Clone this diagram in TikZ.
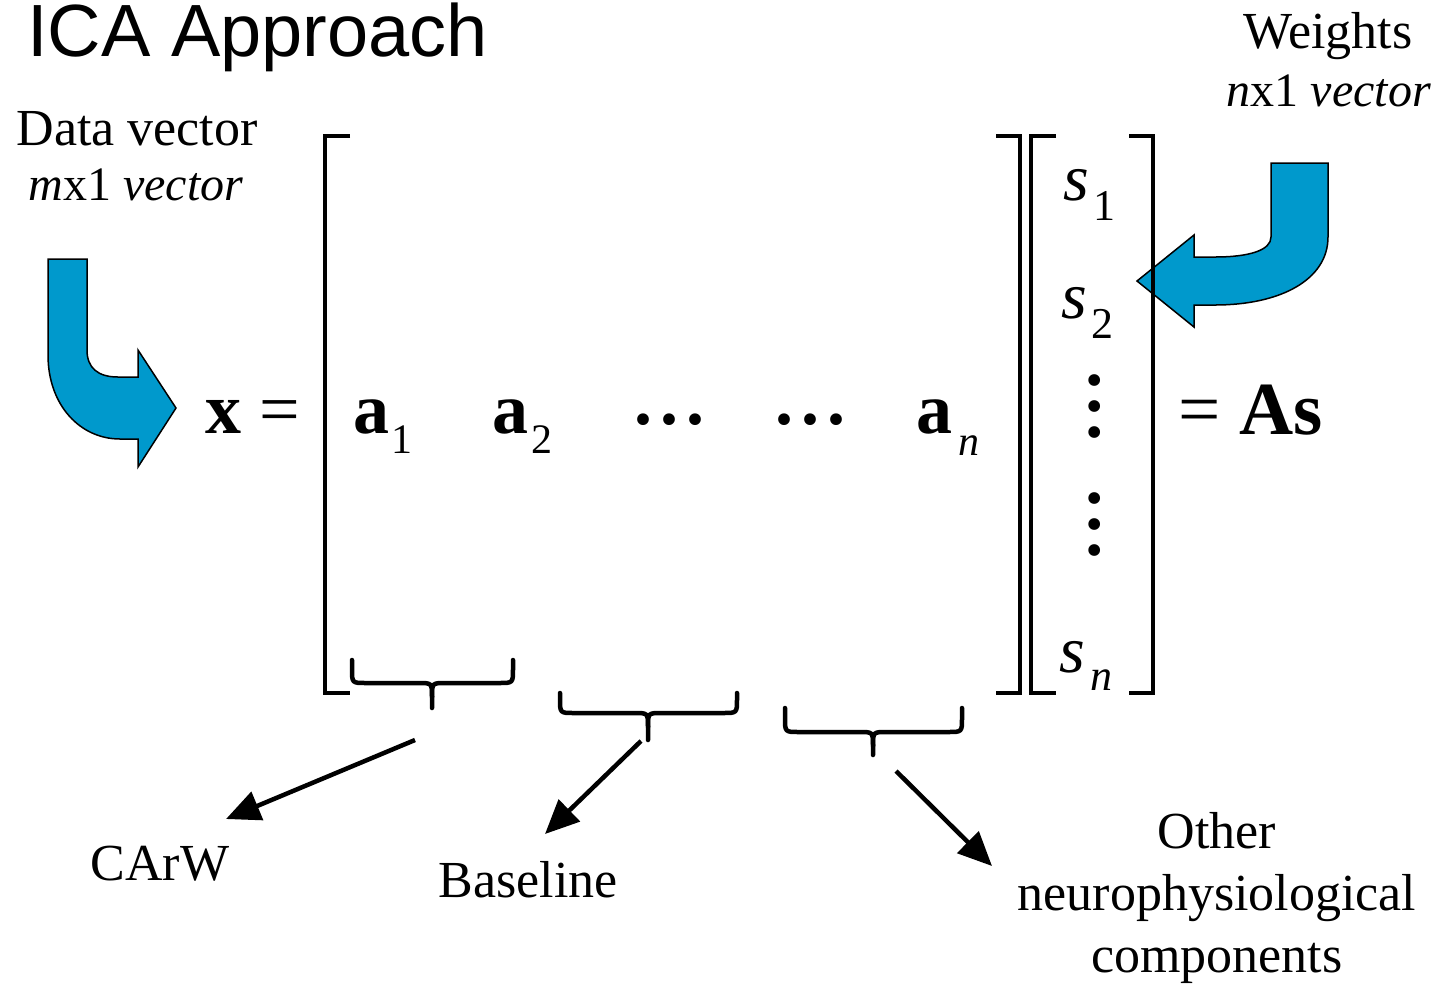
\documentclass[tikz,border=0pt]{standalone}
\usepackage{fontspec}
\setmainfont{Liberation Serif}
\newfontfamily\titlefam{Liberation Sans}
\usetikzlibrary{arrows.meta}
\definecolor{arrowblue}{RGB}{0,153,204}
\newcommand\lowsub[3][42]{\raisebox{-#2pt}{\fontsize{#1}{#1}\selectfont #3}}
\newcommand\threedots{·\kern2pt·\kern2pt·}
\begin{document}
\begin{tikzpicture}[x=1pt,y=-1pt,
  lbl/.style={font=\fontsize{52}{60}\selectfont, inner sep=0pt, anchor=base},
  lbls/.style={font=\fontsize{48}{56}\selectfont, inner sep=0pt, anchor=base},
  mth/.style={font=\fontsize{72}{80}\selectfont, inner sep=0pt, anchor=base west},
  svec/.style={font=\fontsize{66}{70}\selectfont, inner sep=0pt, anchor=base west},
  dotsn/.style={font=\bfseries\fontsize{72}{72}\selectfont, inner sep=0pt, anchor=base},
  brk/.style={line width=4pt},
  brc/.style={line width=4.5pt, line cap=round, line join=round},
  ptr/.style={line width=4.5pt, -{Triangle[length=34pt,width=30pt]}},
  bent/.style={fill=arrowblue, draw=black, line width=1.5pt, line join=miter}]
\useasboundingbox (0,0) rectangle (1446,986);

% title and captions
\node[font=\titlefam\fontsize{74}{80}\selectfont, inner sep=0pt, anchor=base west] (title) at (27,56) {ICA Approach};
\node[lbl] (data1) at (137,145) {Data vector};
\node[lbls] (data2) at (136,200) {\textit{m}x1 \textit{vector}};
\node[lbl] (wt1) at (1328,48) {Weights};
\node[lbls] (wt2) at (1329,106) {\textit{n}x1 \textit{vector}};

% blue bent arrows
\draw[bent] (48,259) -- (87,259) -- (87,350) .. controls (87,368) and (98,377) .. (118,377)
  -- (138,377) -- (138,350) -- (176,408) -- (138,467) -- (138,439) -- (120,439)
  .. controls (80,439) and (48,405) .. (48,355) -- cycle;
\draw[bent] (1271,163) -- (1328,163) -- (1328,237) .. controls (1328,280) and (1280,305) .. (1215,305)
  -- (1194,305) -- (1194,327) -- (1137,281) -- (1194,235) -- (1194,257) -- (1215,257)
  .. controls (1250,257) and (1271,250) .. (1271,237) -- cycle;

% brackets
\draw[brk] (350,135.5) -- (325,135.5) -- (325,693) -- (350,693);
\draw[brk] (996,135.5) -- (1020,135.5) -- (1020,693) -- (996,693);
\draw[brk] (1056,135.5) -- (1031,135.5) -- (1031,693) -- (1056,693);
\draw[brk] (1129,135.5) -- (1153,135.5) -- (1153,693) -- (1129,693);

% equation
\node[mth] (xeq) at (205,433) {\textbf{x} =};
\node[mth] (a1) at (353,433) {\textbf{a}\kern2pt\lowsub{20}{1}};
\node[mth] (a2) at (492,433) {\textbf{a}\kern3pt\lowsub{20}{2}};
\node[dotsn] (hd1) at (670,443) {\threedots};
\node[dotsn] (hd2) at (811,443) {\threedots};
\node[mth] (an) at (916,433) {\textbf{a}\kern6pt\lowsub{22}{\textit{n}}};
\node[mth, font=\fontsize{75}{80}\selectfont] (as) at (1178,434) {= \textbf{As}};

\node[svec] (s1) at (1063,200) {\textit{s}\kern5pt\lowsub[44]{20}{1}};
\node[svec] (s2) at (1061,318) {\textit{s}\kern5pt\lowsub[44]{20}{2}};
\node[svec] (sn) at (1059,672) {\textit{s}\kern6pt\lowsub[44]{18}{\textit{n}}};
\node[dotsn, rotate=90] (vd1) at (1118,406) {\threedots};
\node[dotsn, rotate=90] (vd2) at (1118,524) {\threedots};

% braces
\draw[brc] (352,660) -- (352,669) .. controls (352,683) .. (366,683) -- (418,683)
  .. controls (432,683) .. (432,697) -- (432,708);
\draw[brc] (513,660) -- (513,669) .. controls (513,683) .. (499,683) -- (446,683)
  .. controls (432,683) .. (432,697);
\draw[brc] (560,693) -- (560,699) .. controls (560,713) .. (574,713) -- (634,713)
  .. controls (648,713) .. (648,727) -- (648,740);
\draw[brc] (737,693) -- (737,699) .. controls (737,713) .. (723,713) -- (662,713)
  .. controls (648,713) .. (648,727);
\draw[brc] (785,708) -- (785,718) .. controls (785,732) .. (799,732) -- (859,732)
  .. controls (873,732) .. (873,746) -- (873,755);
\draw[brc] (962,708) -- (962,718) .. controls (962,732) .. (948,732) -- (887,732)
  .. controls (873,732) .. (873,746);

% labels
\node[lbl] (carw) at (160,880) {CArW};
\node[lbl] (base) at (528,897) {Baseline};
\node[lbl] (oth1) at (1217,848) {Other};
\node[lbl] (oth2) at (1217,910) {neurophysiological};
\node[lbl] (oth3) at (1217,972) {components};

% pointers
\coordinate (p1s) at (415,740);
\coordinate (p1e) at (226,819);
\coordinate (p2s) at (641,741);
\coordinate (p2e) at (545,834);
\coordinate (p3s) at (896,771);
\coordinate (p3e) at (992,866);
\draw[ptr] (p1s) -- (p1e);
\draw[ptr] (p2s) -- (p2e);
\draw[ptr] (p3s) -- (p3e);
\end{tikzpicture}
\end{document}
